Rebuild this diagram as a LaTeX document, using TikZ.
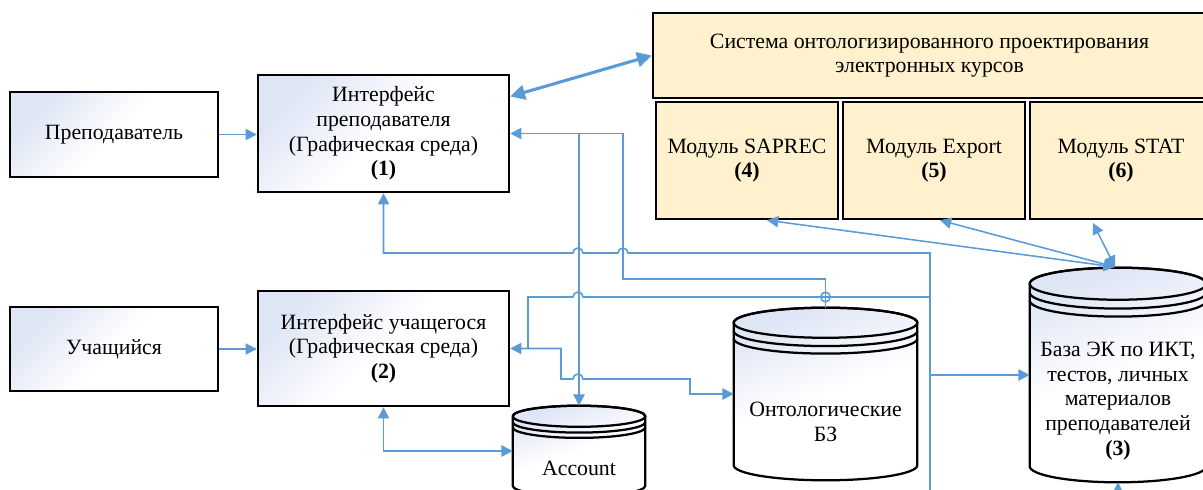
\documentclass[tikz,border=0pt]{standalone}
\usepackage{fontspec}
\setmainfont{Liberation Serif}
\usetikzlibrary{arrows.meta, calc}
\definecolor{LinkBlue}{RGB}{91,155,213}
\definecolor{BoxTint}{RGB}{222,229,245}
\definecolor{ModYellow}{RGB}{255,241,205}

% цилиндр БД по узлу: #1 -- узел, #2 -- полуось эллипса
\newcommand{\dbcyl}[2]{%
  \draw[cylbody] let \p1=(#1.north west), \p2=(#1.south east), \n1={(\x2-\x1)/2} in
    (\x1,{\y1-#2}) -- (\x1,{\y2+#2})
    arc[start angle=180, end angle=360, x radius=\n1, y radius=#2]
    -- (\x2,{\y1-#2})
    arc[start angle=0, end angle=180, x radius=\n1, y radius=#2] -- cycle;
  \draw[line width=1.6pt] let \p1=(#1.north west), \p2=(#1.south east), \n1={(\x2-\x1)/2} in
    (\x1,{\y1-#2}) arc[start angle=180, end angle=-180, x radius=\n1, y radius=#2]
    (\x1,{\y1-1.55*#2}) arc[start angle=180, end angle=360, x radius=\n1, y radius=#2]
    (\x1,{\y1-2.05*#2}) arc[start angle=180, end angle=360, x radius=\n1, y radius=#2];
}
% перескок линии через вертикаль
\newcommand{\hopr}[2]{-- ({#1-5},#2) arc[start angle=180, end angle=0, radius=0.125cm]}

\begin{document}
\begin{tikzpicture}[x=0.025cm, y=-0.025cm, font=\fontsize{15.5}{17.5}\selectfont,
    box/.style={draw, line width=1.7pt, top color=BoxTint, bottom color=white, middle color=white, shading angle=45, align=center},
    modbox/.style={draw, line width=1.7pt, fill=ModYellow, align=center},
    dbbox/.style={inner sep=0pt},
    cylbody/.style={draw, line width=1.6pt, top color=BoxTint, bottom color=white, middle color=white, shading angle=20},
    link/.style={LinkBlue, line width=1.1pt, >={Triangle[width=8pt, length=8pt]}},
    biglink/.style={LinkBlue, line width=2.2pt, >={Triangle[width=10.5pt, length=10.5pt]}}]
    \useasboundingbox (0,0) rectangle (1203,490);
    \clip (0,0) rectangle (1203,490);

    % пользователи и интерфейсы
    \node[box, minimum width=5.2cm, minimum height=2.125cm] (prep) at (114,134.5) {Преподаватель};
    \node[box, minimum width=6.275cm, minimum height=2.925cm] (if1) at (383.5,133.5)
        {Интерфейс\\преподавателя\\(Графическая среда)\\\textbf{(1)}};
    \node[box, minimum width=5.2cm, minimum height=2.1cm] (stud) at (114,349) {Учащийся};
    \node[box, minimum width=6.275cm, minimum height=2.875cm] (if2) at (383.5,348.5)
        {Интерфейс учащегося\\(Графическая среда)\\\textbf{(2)}};

    % система и модули
    \node[modbox, minimum width=13.825cm, minimum height=2.125cm] (sys) at (929.5,55.5)
        {Система онтологизированного проектирования\\электронных курсов};
    \node[modbox, minimum width=4.55cm, minimum height=2.925cm] (saprec) at (747,160.5) {Модуль SAPREC\\\textbf{(4)}};
    \node[modbox, minimum width=4.55cm, minimum height=2.925cm] (export) at (934,160.5) {Модуль Export\\\textbf{(5)}};
    \node[modbox, minimum width=4.55cm, minimum height=2.925cm] (stat) at (1121,160.5) {Модуль STAT\\\textbf{(6)}};

    % базы данных
    \node[dbbox, minimum width=3.3cm, minimum height=2.25cm] (acc) at (579,451) {};
    \dbcyl{acc}{7.5pt}
    \node (acctext) at (579,468) {Account};
    \node[dbbox, minimum width=4.575cm, minimum height=4.3cm] (ontol) at (825.5,394) {};
    \dbcyl{ontol}{10.7pt}
    \node[align=center] (ontoltext) at (825.5,422) {Онтологические\\БЗ};
    \node[dbbox, minimum width=4.4cm, minimum height=5.35cm] (base) at (1118,375) {};
    \dbcyl{base}{11.4pt}
    \node[align=center] (basetext) at (1118,401)
        {База ЭК по ИКТ,\\тестов, личных\\материалов\\преподавателей\\\textbf{(3)}};

    % узловые точки
    \coordinate (bustop) at (930,253);
    \coordinate (busend) at (930,505);
    \coordinate (busbase) at (930,375);
    \coordinate (basetop) at (1115,267);

    % связи
    \draw[link, ->] (prep.east) -- (prep.east -| if1.west);
    \draw[link, ->] (stud.east) -- (stud.east -| if2.west);
    \draw[biglink, <->] ($(if1.north east)!0.19!(if1.south east)$) -- (sys.west);

    \draw[link, <-] (if1.east) -- (623,133.5) -- (623,279) -| (ontol.north);
    \draw[link, ->] (acc.north |- if1.east) -- (acc.north);
    \draw[LinkBlue, line width=1.1pt] (825.5,297) circle[radius=0.12cm];

    \draw[link, <-] (if1.south) -- (if1.south |- bustop) \hopr{578}{253} \hopr{623}{253} -- (bustop) -- (busend);
    \draw[link, ->] (busbase) -- (base.west);
    \draw[link, <-] (if2.east) -- (528,348.5) -- (528,297) \hopr{578}{297} -- (930,297);
    \draw[link, ->] (528,348.5) -- (561,348.5) -- (561,379) \hopr{578}{379} -- (690,379) -- (690,394) -- (ontol.west);
    \draw[link, <->] (if2.south) |- (acc.west);

    \draw[link, <->] (basetop) -- ([xshift=0.5cm]saprec.south);
    \draw[link, <->] (basetop) -- ([xshift=0.15cm]export.south);
    \draw[link, <->] (basetop) -- ([xshift=-0.7cm,yshift=-0.07cm]stat.south);
    \draw[link, ->] (base.south |- busend) -- (base.south);
\end{tikzpicture}
\end{document}
